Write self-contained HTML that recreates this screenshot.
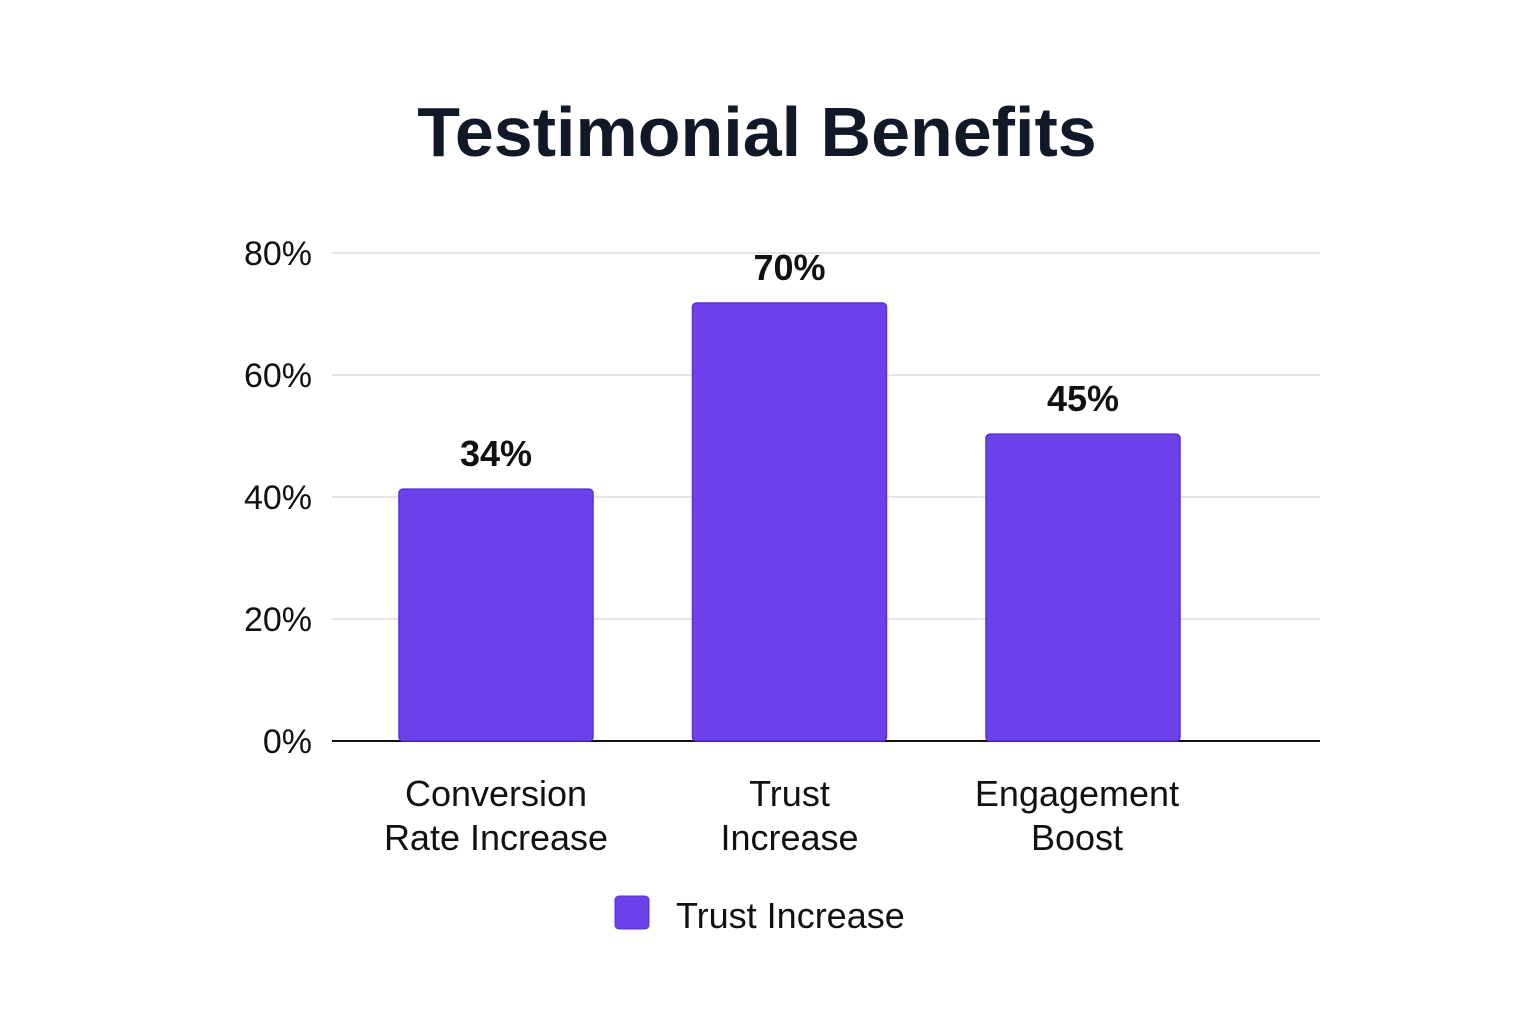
<!DOCTYPE html>
<html><head><meta charset="utf-8"><style>
html,body{margin:0;padding:0;background:#fff;}
svg{display:block;font-family:"Liberation Sans",sans-serif;}
</style></head><body>
<svg id="chart" width="1536" height="1024">
<rect width="1536" height="1024" fill="#ffffff"/>
<text x="757" y="156" text-anchor="middle" font-size="70" font-weight="bold" fill="#111827">Testimonial Benefits</text>
<g id="grid"></g><g id="bars"></g><g id="labels"></g>
<rect x="615" y="896" width="34" height="33" rx="4" fill="#6c40ea" stroke="#5a2fd6"/>
<text x="676" y="928" font-size="36" fill="#111">Trust Increase</text>
</svg>
<script>
const categories=[["Conversion","Rate Increase"],["Trust","Increase"],["Engagement","Boost"]];
const values=[41.3,71.8,50.3];
const valueLabels=["34%","70%","45%"];
const ticks=[0,20,40,60,80];
const tickLabels=["0%","20%","40%","60%","80%"];
const NS="http://www.w3.org/2000/svg";
const x0=332,x1=1320,y0=741,yTop=253,maxV=80;
const y=v=>y0-(v/maxV)*(y0-yTop);
const band=(x1-x0)/3.4, barW=194;
const cx=i=>496+i*293.5;
function mk(t,a,p){const e=document.createElementNS(NS,t);for(const k in a)e.setAttribute(k,a[k]);p.appendChild(e);return e;}
const g=document.getElementById('grid'),b=document.getElementById('bars'),l=document.getElementById('labels');
ticks.forEach((t,i)=>{
 const ln=mk('line',{x1:x0,x2:x1,y1:y(t),y2:y(t),stroke:t===0?'#111':'#dcdcdc','stroke-width':t===0?2:1.5},g);
 
 
 const tx=mk('text',{x:312,y:y(t)+12,'text-anchor':'end','font-size':34,fill:'#111'},g);
 tx.textContent=tickLabels[i];
 
 
});
values.forEach((v,i)=>{
 const c=cx(i);
 const r=mk('rect',{x:c-barW/2,y:y(v),width:barW,height:y0-y(v),rx:4,fill:'#6c40ea',stroke:'#5a2fd6','stroke-width':1.5},b);
 
 
 const vt=mk('text',{x:c,y:y(v)-23,'text-anchor':'middle','font-size':36,'font-weight':'bold',fill:'#111'},l);
 vt.textContent=valueLabels[i];
 
 
 categories[i].forEach((s,j)=>{
  const ct=mk('text',{x:c-(i===2?6:0),y:806+j*44,'text-anchor':'middle','font-size':36,fill:'#111'},l);
  ct.textContent=s;
  
  
 });
});
</script>
</body></html>
